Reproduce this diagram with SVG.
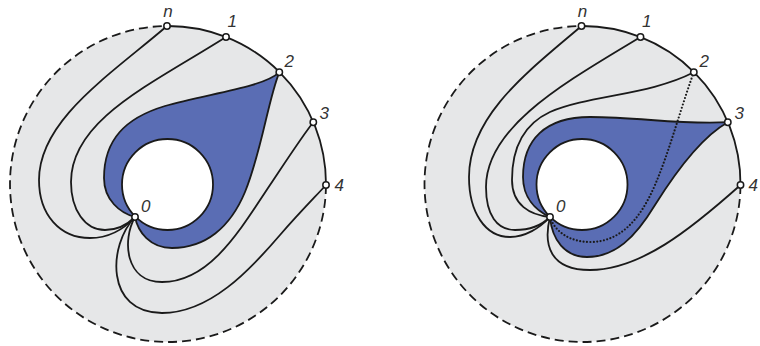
<svg xmlns="http://www.w3.org/2000/svg" width="760" height="346" viewBox="0 0 760 346">
<style>
.disc{fill:#e6e7e8;stroke:none}
.solid{fill:none;stroke:#1a1a1a;stroke-width:1.8}
.dash{fill:none;stroke:#1a1a1a;stroke-width:1.8;stroke-dasharray:9 5}
.blue{fill:#5a6db4;stroke:#1a1a1a;stroke-width:1.8;stroke-linejoin:round}
.hole{fill:#ffffff;stroke:#1a1a1a;stroke-width:1.8}
.edge{fill:none;stroke:#1a1a1a;stroke-width:1.8;stroke-linecap:round}
.dot{fill:none;stroke:#1a1a1a;stroke-width:2.2;stroke-linecap:round;stroke-dasharray:0 3.4}
.node{fill:#ffffff;stroke:#1a1a1a;stroke-width:1.5}
.lbl{font-family:"Liberation Sans",Arial,sans-serif;font-style:italic;font-size:17px;fill:#333}
</style>

<!-- Left figure -->
<g id="left-disc">
<circle class="disc" cx="168" cy="184" r="158"/>
</g>
<g id="left-region">
<path class="blue" d="M135,217 C120,213 104,200 104,178 C104,140 125,118 165,106 C205,94 262,88 279.3,72.3 C268,100 262,150 245,192 C230,228 205,248 172,248 C150,248 138,232 135,217 Z"/>
<circle class="hole" cx="167.5" cy="184.5" r="45.5"/>
</g>
<g id="left-connectors">
<path class="edge" d="M167,26 C110,75 39,120 39,180 C39,215 60,238 90,238 C110,238 125,228 135,217"/>
<path class="edge" d="M226,37 C150,85 71,120 71,182 C71,210 85,230 105,230 C118,230 128,224 135,217"/>
<path class="edge" d="M135,217 C122,240 125,282 162,282 C210,282 240,230 270,185 C290,155 303,135 313.3,122.2"/>
<path class="edge" d="M135,217 C108,245 105,313 162,313 C210,313 250,270 280,235 C300,212 315,197 326,185"/>
</g>
<g id="left-boundary">
<path class="solid" d="M167,26 A158,158 0 0 1 326,185"/>
<path class="dash" d="M326,185 A158,158 0 1 1 167,26"/>
</g>
<g id="left-node-n"><circle class="node" cx="167" cy="26" r="3.2"/><text class="lbl" x="168" y="17" text-anchor="middle">n</text></g>
<g id="left-node-1"><circle class="node" cx="226" cy="37" r="3.2"/><text class="lbl" x="227.5" y="27">1</text></g>
<g id="left-node-2"><circle class="node" cx="279.3" cy="72.3" r="3.2"/><text class="lbl" x="284.5" y="66.5">2</text></g>
<g id="left-node-3"><circle class="node" cx="313.3" cy="122.2" r="3.2"/><text class="lbl" x="319.5" y="118.5">3</text></g>
<g id="left-node-4"><circle class="node" cx="326" cy="185" r="3.2"/><text class="lbl" x="334.5" y="190.5">4</text></g>
<g id="left-node-0"><circle class="node" cx="135" cy="217" r="3.2"/><text class="lbl" x="141" y="212">0</text></g>

<!-- Right figure -->
<g id="right-disc">
<circle class="disc" cx="582.5" cy="184" r="158"/>
</g>
<g id="right-region">
<path class="blue" d="M550,217 C535,210 523,197 523,177 C523,140 545,117 590,117 C640,117 680,125 727.8,122.2 C705,135 680,165 655,205 C635,238 615,257 587,257 C565,257 552,240 550,217 Z"/>
<circle class="hole" cx="582" cy="184.5" r="45.5"/>
</g>
<g id="right-connectors">
<path class="edge" d="M581.5,26 C530,70 469,115 469,177 C469,212 485,237 510,237 C525,237 540,228 550,217"/>
<path class="edge" d="M640.5,37 C570,80 486,125 486,187 C486,215 497,230 515,230 C530,230 542,225 550,217"/>
<path class="edge" d="M693.8,72.3 C650,95 590,95 550,112 C522,125 512,150 512,180 C512,205 530,215 550,217"/>
<path class="dot" d="M693.8,72.3 C680,110 670,150 655,185 C640,220 620,242 590,242 C570,242 555,232 550,217"/>
<path class="edge" d="M550,217 C543,245 550,270 590,270 C640,270 690,230 740.5,185"/>
</g>
<g id="right-boundary">
<path class="solid" d="M581.5,26 A158,158 0 0 1 740.5,185"/>
<path class="dash" d="M740.5,185 A158,158 0 1 1 581.5,26"/>
</g>
<g id="right-node-n"><circle class="node" cx="581.5" cy="26" r="3.2"/><text class="lbl" x="582.5" y="17" text-anchor="middle">n</text></g>
<g id="right-node-1"><circle class="node" cx="640.5" cy="37" r="3.2"/><text class="lbl" x="642" y="27">1</text></g>
<g id="right-node-2"><circle class="node" cx="693.8" cy="72.3" r="3.2"/><text class="lbl" x="699.5" y="66.5">2</text></g>
<g id="right-node-3"><circle class="node" cx="727.8" cy="122.2" r="3.2"/><text class="lbl" x="734.5" y="118.5">3</text></g>
<g id="right-node-4"><circle class="node" cx="740.5" cy="185" r="3.2"/><text class="lbl" x="748.5" y="190.5">4</text></g>
<g id="right-node-0"><circle class="node" cx="550" cy="217" r="3.2"/><text class="lbl" x="556" y="212">0</text></g>
</svg>
